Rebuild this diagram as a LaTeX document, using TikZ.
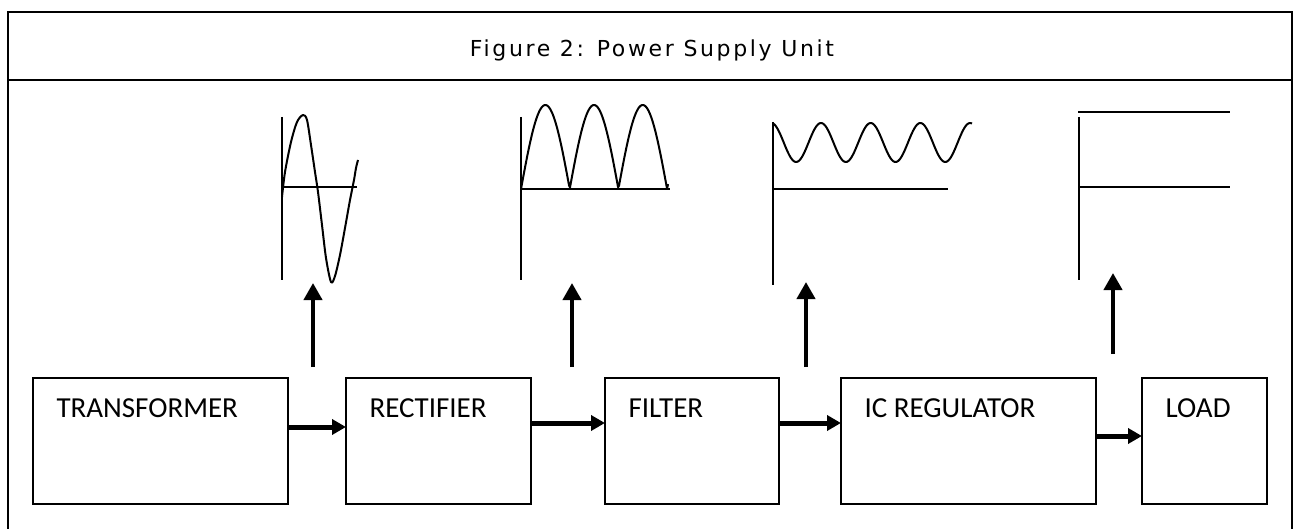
\documentclass[tikz,border=0pt]{standalone}
\usepackage{fontspec}
\setmainfont{Carlito}
\newfontfamily\figtitlefont[LetterSpace=12]{DejaVu Sans}
\usetikzlibrary{arrows.meta}

\begin{document}
\begin{tikzpicture}[x=1pt,y=-1pt,
                    block/.style={draw,line width=2pt,anchor=north west,
                                  minimum height=126pt,inner sep=0pt,outer sep=0pt},
                    blocktext/.style={anchor=base west,xshift=20pt,yshift=-39pt,
                                      font=\fontsize{29}{34}\selectfont},
                    flow/.style={line width=5pt,-{Triangle[length=14pt,width=15pt]}},
                    rise/.style={line width=4pt,-{Triangle[length=17pt,width=18pt]}},
                    axis/.style={line width=2.5pt},
                    wave/.style={line width=2pt,line join=round}]
  \useasboundingbox (0,0) rectangle (1295,529);
  % frame and caption band
  \draw[line width=1.5pt] (8,535) -- (8,12) -- (1292,12) -- (1292,535);
  \draw[line width=2.5pt] (8,80) -- (1292,80);
  \node[font=\figtitlefont\fontsize{22}{26}\selectfont,anchor=base] (caption)
    at (652,57) {Figure 2: Power Supply Unit};

  % the chain of blocks
  \node[block,minimum width=255pt,label={[blocktext]north west:TRANSFORMER}] (xfrm) at (33,378) {};
  \node[block,minimum width=185pt,label={[blocktext]north west:RECTIFIER}] (rect) at (346,378) {};
  \node[block,minimum width=174pt,label={[blocktext]north west:FILTER}] (filt) at (605,378) {};
  \node[block,minimum width=255pt,label={[blocktext]north west:IC REGULATOR}] (icreg) at (841,378) {};
  \node[block,minimum width=125pt,label={[blocktext]north west:LOAD}] (load) at (1142,378) {};

  \draw[flow] ([yshift=14pt]xfrm.east) -- ([yshift=14pt]rect.west);
  \draw[flow] ([yshift=18pt]rect.east) -- ([yshift=18pt]filt.west);
  \draw[flow] ([yshift=18pt]filt.east) -- ([yshift=18pt]icreg.west);
  \draw[flow] ([yshift=5pt]icreg.east) -- ([yshift=5pt]load.west);

  % arrows up to the waveforms
  \coordinate (ac-foot) at (313,367);   \coordinate (ac-tip) at (313,283);
  \coordinate (dc-foot) at (572,367);   \coordinate (dc-tip) at (572,283);
  \coordinate (rip-foot) at (806,367);  \coordinate (rip-tip) at (806,282);
  \coordinate (out-foot) at (1113,354); \coordinate (out-tip) at (1113,273);
  \draw[rise] (ac-foot) -- (ac-tip);
  \draw[rise] (dc-foot) -- (dc-tip);
  \draw[rise] (rip-foot) -- (rip-tip);
  \draw[rise] (out-foot) -- (out-tip);

  % ac from the transformer
  \draw[axis] (282,117) -- (282,280);
  \draw[axis] (282,187) -- (357,187);
  \draw[wave] plot[smooth] coordinates {(282,197) (285,172) (291,142) (297,122) (303,115)
    (307,120) (311,145) (315,172) (318,192) (322,225) (326,258) (331,282) (335,276)
    (340,255) (345,228) (350,200) (354,180) (356,168) (358,160)};

  % full wave rectified
  \draw[axis] (521,117) -- (521,280);
  \draw[axis] (521,189) -- (670,189);
  \draw[wave] plot[domain=521:668,samples=160]
    (\x,{189-84*abs(sin((\x-521)/48.7*180))});

  % filtered, with ripple
  \draw[axis] (773,122) -- (773,285);
  \draw[axis] (773,189) -- (948,189);
  \draw[wave] plot[domain=773:972,samples=160]
    (\x,{142.5-19.5*cos((\x-821)/49.7*360)});

  % regulated output
  \draw[axis] (1079,117) -- (1079,280);
  \draw[axis] (1078,112) -- (1230,112);
  \draw[axis] (1079,187) -- (1230,187);
\end{tikzpicture}
\end{document}
